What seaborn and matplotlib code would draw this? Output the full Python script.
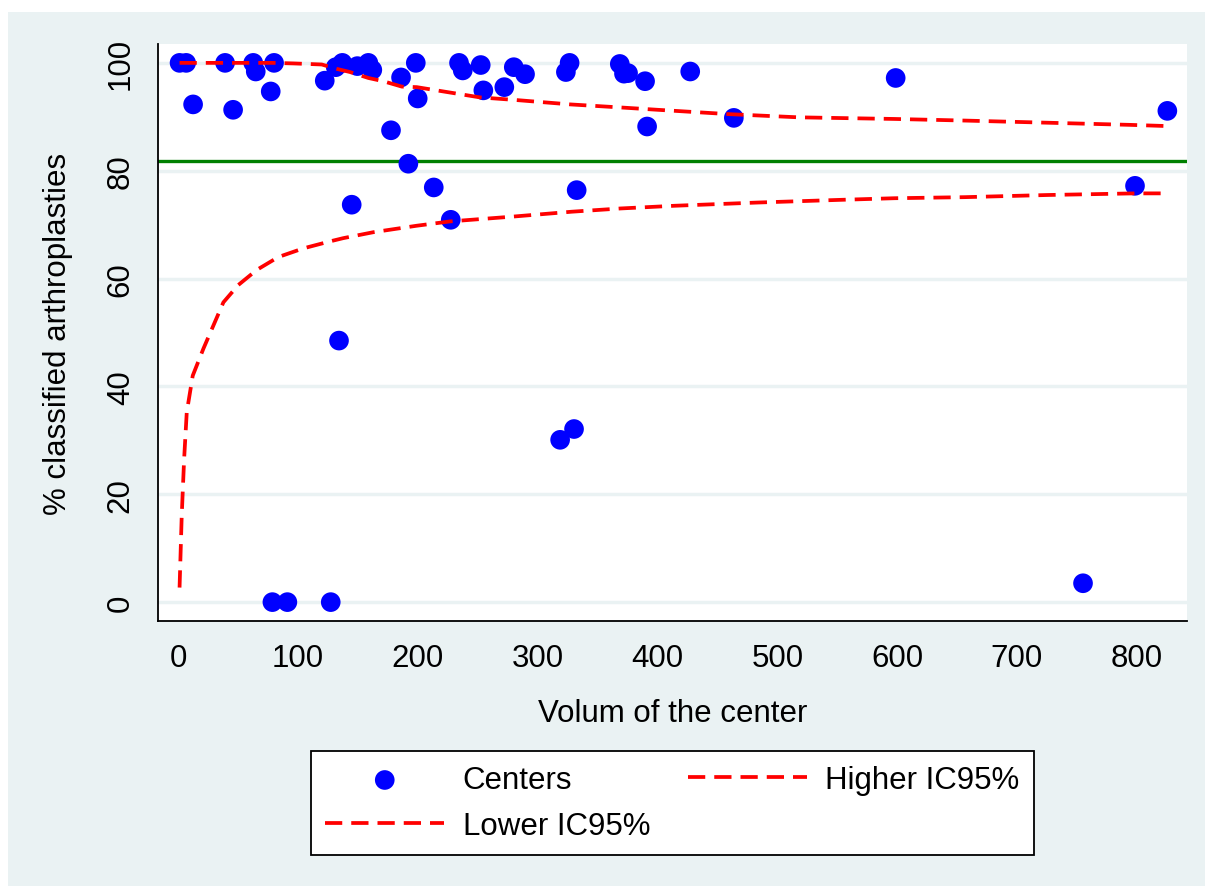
import numpy as np
import pandas as pd
import matplotlib
matplotlib.use("Agg")
import matplotlib.pyplot as plt
import seaborn as sns
from matplotlib.patches import Rectangle

# ---- data ----
volume = [1, 6.5, 12.3, 39, 45.7, 62.5, 64.6, 77.1, 78.5, 79.9, 91, 122.2, 127.2,
          131.4, 134.1, 136.9, 144.7, 149.4, 158.6, 161.9, 177.5, 185.9, 192.0,
          198.2, 199.8, 213.2, 227.4, 234.3, 237.4, 252.4, 254.6, 272.1, 280.0,
          289.4, 318.7, 323.5, 326.6, 330.3, 332.5, 368.5, 372.0, 375.4, 389.6,
          391.3, 427.3, 463.7, 598.8, 755.2, 798.6, 825.6]
pct_classified = [100, 100, 92.3, 100, 91.3, 100, 98.4, 94.7, 0, 100, 0, 96.7, 0,
                  99.2, 48.5, 100, 73.7, 99.4, 100, 98.7, 87.5, 97.3, 81.3,
                  100, 93.4, 76.9, 70.9, 100, 98.6, 99.6, 94.9, 95.5, 99.2,
                  97.9, 30.1, 98.3, 100, 32.1, 76.4, 99.8, 98.0, 98.1, 96.6,
                  88.2, 98.4, 89.8, 97.2, 3.5, 77.2, 91.1]

higher_x = [1, 79, 96, 119.7, 132, 143.3, 158.6, 171, 186.5, 199, 212.9, 226.8,
            251.8, 282.5, 327, 371.5, 400, 459, 518, 597.7, 656.7, 726, 795, 823]
higher_ci = [100, 100, 99.9, 99.7, 98.9, 98.3, 97.2, 96.6, 95.6, 95.5, 95.0, 94.5,
             93.6, 93.1, 92.3, 91.7, 91.3, 90.5, 89.9, 89.6, 89.3, 88.9, 88.5, 88.3]

lower_x = [1, 2.8, 4.8, 7, 12, 20.9, 37.6, 50, 65.4, 83.5, 104.3, 126.6, 137.7,
           162.8, 199, 226.8, 279.6, 328.4, 369, 414, 483.5, 552.8, 597.7, 656.7,
           726, 798.6, 823]
lower_ci = [2.7, 16, 26.5, 35.2, 42, 47, 55.6, 58.8, 61.6, 64.0, 65.6, 66.9, 67.5,
            68.6, 69.8, 70.6, 71.5, 72.4, 73.0, 73.5, 74.1, 74.6, 74.9, 75.1,
            75.5, 75.8, 75.8]

mean_pct = 81.8
x_ticks = [0, 100, 200, 300, 400, 500, 600, 700, 800]
y_ticks = [0, 20, 40, 60, 80, 100]

# ---- styling ----
sns.set_theme(style="white")
plt.rcParams['font.family'] = ['Liberation Sans', 'DejaVu Sans']
FS = 22.5

W, H = 1205, 887
fig = plt.figure(figsize=(W / 100, H / 100), dpi=100, facecolor='white')
fig.patches.append(Rectangle((8 / W, 0), 1 - 8 / W, 1 - 13 / H,
                             transform=fig.transFigure, facecolor='#EAF2F3',
                             edgecolor='none', zorder=-10))
ax = fig.add_axes([158 / W, 1 - 622 / H, (1187 - 158) / W, (622 - 45) / H])
ax.set_facecolor('white')

ax.axhline(mean_pct, color='#008000', lw=2.4, zorder=2)

sns.scatterplot(x=volume, y=pct_classified, ax=ax, color='#0000FF', s=200,
                edgecolor='none', linewidth=0, zorder=3, label='Centers')
sns.lineplot(x=lower_x, y=lower_ci, ax=ax, color='#FF0000', lw=2.7,
             linestyle=(0, (4.6, 2.4)), estimator=None, zorder=4,
             label='Lower IC95%')
sns.lineplot(x=higher_x, y=higher_ci, ax=ax, color='#FF0000', lw=2.7,
             linestyle=(0, (4.6, 2.4)), estimator=None, zorder=4,
             label='Higher IC95%')

ax.set_xlim(-17, 842)
ax.set_ylim(-3.5, 103.5)
ax.set_xticks(x_ticks)
ax.set_xticklabels([str(t) for t in x_ticks])
ax.set_yticks(y_ticks)
ax.set_yticklabels([str(t) for t in y_ticks], rotation=90, va='center')

ax.yaxis.grid(True, color='#EAF2F3', lw=2.5)
ax.xaxis.grid(False)
ax.set_axisbelow(True)

for s in ['top', 'right']:
    ax.spines[s].set_visible(False)
for s in ['left', 'bottom']:
    ax.spines[s].set_color('black')
    ax.spines[s].set_linewidth(1.3)

ax.tick_params(axis='both', direction='out', length=8, width=1.3, color='black',
               labelsize=FS, labelcolor='black')
ax.tick_params(axis='x', pad=8)
ax.tick_params(axis='y', pad=8)

ax.set_xlabel('Volum of the center', fontsize=FS, color='black')
ax.set_ylabel('% classified arthroplasties', fontsize=FS, color='black')
ax.xaxis.set_label_coords(0.5, (622 - 714) / 577)
ax.xaxis.label.set_va('center')
ax.yaxis.set_label_coords((58 - 158) / 1029, 0.5)
ax.yaxis.label.set_va('center')

handles, labels = ax.get_legend_handles_labels()
ax.get_legend().remove()
order = [labels.index('Centers'), labels.index('Lower IC95%'), labels.index('Higher IC95%')]
leg = fig.legend([handles[i] for i in order], [labels[i] for i in order],
                 ncol=2, loc='center', bbox_to_anchor=(672.5 / W, 1 - 804 / H),
                 fontsize=FS, frameon=True, fancybox=False, framealpha=1,
                 edgecolor='black', handlelength=3.8, handletextpad=0.6,
                 columnspacing=1.2, labelspacing=0.5, borderpad=0.45,
                 borderaxespad=0.3, markerscale=1.0)
leg.get_frame().set_linewidth(1.3)
for t in leg.get_texts():
    t.set_color('black')

fig.savefig('out.png', dpi=100, facecolor=fig.get_facecolor())
